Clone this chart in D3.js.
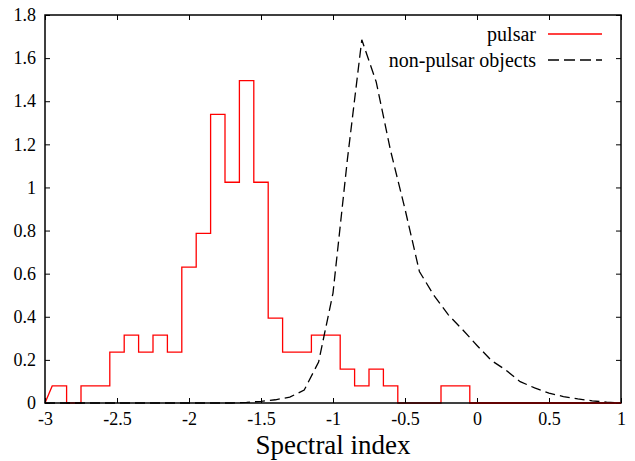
<!DOCTYPE html>
<html>
<head>
<meta charset="utf-8">
<script src="https://cdn.jsdelivr.net/npm/d3@7"></script>
<style>
  body { margin: 0; background: #fff; }
  svg { display: block; }
  svg text { font-family: "Liberation Serif", "Times New Roman", serif; fill: #000; }
</style>
</head>
<body>
<svg id="chart" width="635" height="461"></svg>
<script>
// histogram bins (left edges), width 0.1, normalised density
const binEdges = [-2.95, -2.85, -2.75, -2.65, -2.55, -2.45, -2.35, -2.25, -2.15, -2.05,
    -1.95, -1.85, -1.75, -1.65, -1.55, -1.45, -1.35, -1.25, -1.15, -1.05,
    -0.95, -0.85, -0.75, -0.65, -0.55, -0.45, -0.35, -0.25, -0.15];
const pulsarDensity = [0.079, 0, 0.079, 0.079, 0.236, 0.315, 0.236, 0.315, 0.236, 0.630,
    0.787, 1.339, 1.024, 1.496, 1.024, 0.394, 0.236, 0.236, 0.315, 0.315,
    0.157, 0.079, 0.157, 0.079, 0, 0, 0, 0.079, 0.079];

// non-pulsar objects curve
const otherX = [-3, -2.0, -1.7, -1.6, -1.5, -1.4, -1.3, -1.2, -1.1, -1.0, -0.9, -0.8, -0.7, -0.6,
    -0.5, -0.4, -0.3, -0.2, -0.1, 0, 0.1, 0.2, 0.3, 0.4, 0.5, 0.6, 0.7, 0.8, 0.9, 1.0];
const otherY = [0, 0, 0, 0.003, 0.008, 0.015, 0.027, 0.06, 0.19, 0.51, 1.13, 1.685, 1.49, 1.17,
    0.90, 0.61, 0.50, 0.41, 0.34, 0.267, 0.197, 0.153, 0.099, 0.07, 0.046, 0.03, 0.019, 0.01, 0.004, 0];

const xTicks = [-3, -2.5, -2, -1.5, -1, -0.5, 0, 0.5, 1];
const yTicks = [0, 0.2, 0.4, 0.6, 0.8, 1, 1.2, 1.4, 1.6, 1.8];

const svg = d3.select("#chart");
const plotLeft = 45, plotRight = 621, plotTop = 15, plotBottom = 403;
const serif = '"Liberation Serif", "Times New Roman", serif';

const x = d3.scaleLinear().domain([-3, 1]).range([plotLeft, plotRight]);
const y = d3.scaleLinear().domain([0, 1.8]).range([plotBottom, plotTop]);

// pulsar step outline
const steps = [[x(-3), y(0)]];
binEdges.forEach((e, i) => {
    steps.push([x(e), y(pulsarDensity[i])]);
    steps.push([x(e + 0.1), y(pulsarDensity[i])]);
});
steps.push([x(binEdges[binEdges.length - 1] + 0.1), y(0)]);
steps.push([x(1), y(0)]);
svg.append("path")
    .attr("d", "M" + steps.map(p => p.join(",")).join("L"))
    .attr("fill", "none")
    .attr("stroke", "#ff0000")
    .attr("stroke-width", 1.3);

// non-pulsar dashed curve
const line = d3.line().x(d => x(d)).y((d, i) => y(otherY[i]));
svg.append("path")
    .attr("d", line(otherX))
    .attr("fill", "none")
    .attr("stroke", "#000")
    .attr("stroke-width", 1.3)
    .attr("stroke-dasharray", "10,5");

// axes with gnuplot-style inward ticks
const fmt = d => String(d);
const axB = svg.append("g").attr("transform", `translate(0,${plotBottom})`)
    .call(d3.axisBottom(x).tickValues(xTicks).tickSizeInner(-5).tickSizeOuter(0).tickPadding(9).tickFormat(fmt));
const axT = svg.append("g").attr("transform", `translate(0,${plotTop})`)
    .call(d3.axisTop(x).tickValues(xTicks).tickSizeInner(-5).tickSizeOuter(0).tickFormat(""));
const axL = svg.append("g").attr("transform", `translate(${plotLeft},0)`)
    .call(d3.axisLeft(y).tickValues(yTicks).tickSizeInner(-5).tickSizeOuter(0).tickPadding(9).tickFormat(fmt));
const axR = svg.append("g").attr("transform", `translate(${plotRight},0)`)
    .call(d3.axisRight(y).tickValues(yTicks).tickSizeInner(-5).tickSizeOuter(0).tickFormat(""));

[axB, axT, axL, axR].forEach(g => {
    g.attr("font-family", null).attr("font-size", null);
    g.select(".domain").remove();
    g.selectAll(".tick line").attr("stroke", "#000").attr("stroke-width", 1);
    g.selectAll("text").style("font-family", serif).style("font-size", "18px");
});

svg.append("rect")
    .attr("x", plotLeft).attr("y", plotTop)
    .attr("width", plotRight - plotLeft).attr("height", plotBottom - plotTop)
    .attr("fill", "none").attr("stroke", "#000").attr("stroke-width", 1.5);

// red histogram baseline blended with the frame
svg.append("line")
    .attr("x1", x(-0.05)).attr("x2", x(1)).attr("y1", y(0)).attr("y2", y(0))
    .attr("stroke", "#700000").attr("stroke-width", 1.5);

svg.append("text")
    .attr("x", (plotLeft + plotRight) / 2).attr("y", 454)
    .attr("text-anchor", "middle")
    .style("font-family", serif)
    .style("font-size", "27px")
    .text("Spectral index");

// legend
const legend = [
    { name: "pulsar", color: "#ff0000", dash: null, y: 34 },
    { name: "non-pulsar objects", color: "#000", dash: "11,5", y: 60 }
];
legend.forEach(l => {
    svg.append("text")
        .attr("x", 536).attr("y", l.y).attr("dy", "0.35em")
        .attr("text-anchor", "end")
        .style("font-family", serif)
        .style("font-size", "20px")
        .text(l.name);
    svg.append("line")
        .attr("x1", 548).attr("x2", 602).attr("y1", l.y).attr("y2", l.y)
        .attr("stroke", l.color).attr("stroke-width", 1.3)
        .attr("stroke-dasharray", l.dash);
});
</script>
</body>
</html>
